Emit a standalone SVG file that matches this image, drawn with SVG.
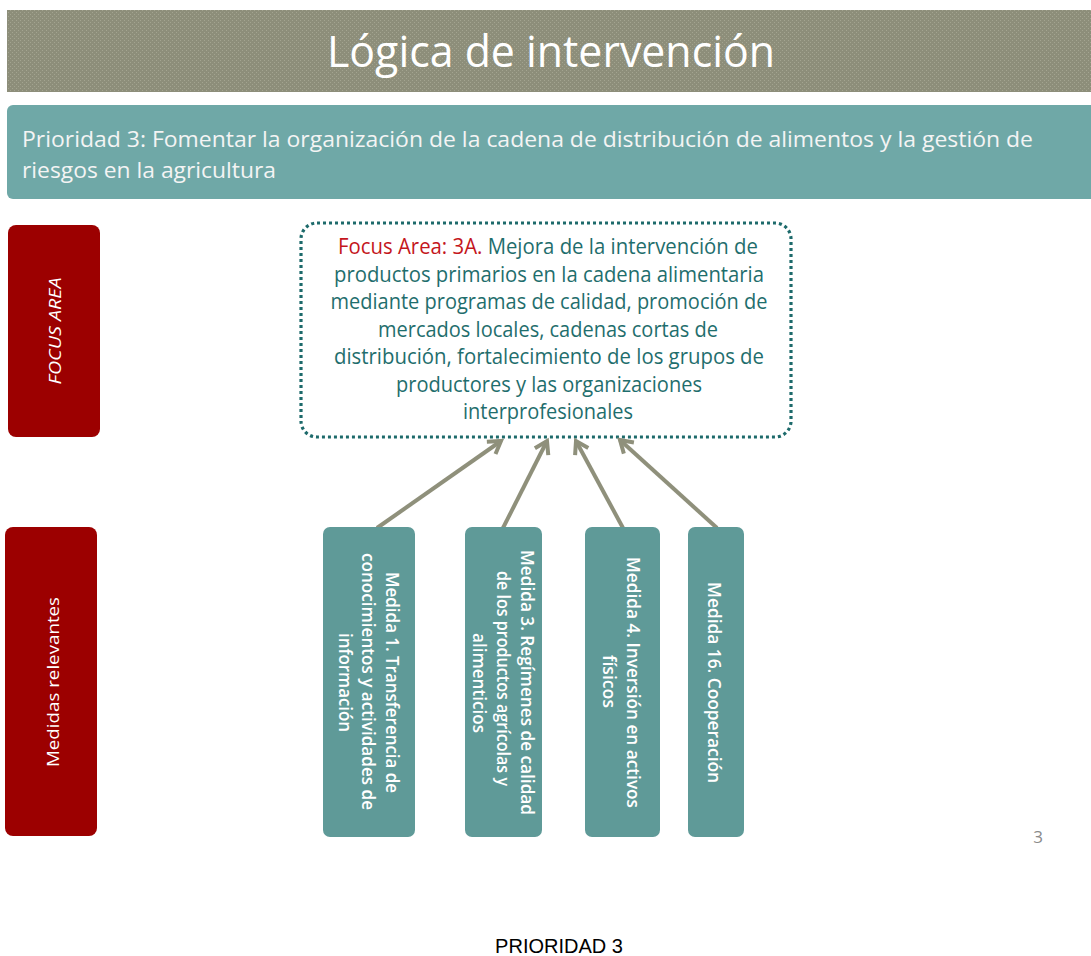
<svg xmlns="http://www.w3.org/2000/svg" width="1091" height="956" viewBox="0 0 1091 956">
<defs>
<pattern id="dots" width="4" height="4" patternUnits="userSpaceOnUse">
<rect width="4" height="4" fill="#8d8e7a"/>
<rect x="0" y="0" width="1" height="1" fill="#a3a490"/>
<rect x="2" y="2" width="1" height="1" fill="#a3a490"/>
</pattern>
<marker id="arr" markerUnits="userSpaceOnUse" markerWidth="30" markerHeight="30" refX="15" refY="15" orient="auto" overflow="visible">
<path d="M3,7.5 L15,15 L3,22.5" fill="none" stroke="#8f907b" stroke-width="4"/>
</marker>
</defs>
<style>
.os{font-family:"Open Sans","Noto Sans","DejaVu Sans",sans-serif;}
.wt{fill:#ffffff;}
.red{fill:#9c0000;}
.med{fill:#5f9a98;}
.ft{fill:#1f6e6d;font-size:21px;}
.mt{fill:#ffffff;font-size:18px;font-weight:600;}
.conn{stroke:#8f907b;stroke-width:4;fill:none;marker-end:url(#arr);}
</style>
<rect width="1091" height="956" fill="#ffffff"/>

<g id="title">
<rect x="7" y="10" width="1086" height="82" fill="url(#dots)"/>
<text class="os wt" x="327" y="67" font-size="44" textLength="448" lengthAdjust="spacingAndGlyphs">Lógica de intervención</text>
</g>

<g id="priority">
<rect x="7" y="105" width="1090" height="94" rx="6" fill="#6fa8a7"/>
<text class="os" fill="#f4f4f4" x="22" y="147" font-size="21" textLength="1011" lengthAdjust="spacingAndGlyphs">Prioridad 3: Fomentar la organización de la cadena de distribución de alimentos y la gestión de</text>
<text class="os" fill="#f4f4f4" x="22" y="178" font-size="21" textLength="254" lengthAdjust="spacingAndGlyphs">riesgos en la agricultura</text>
</g>

<g id="label-focus">
<rect x="8" y="225" width="92" height="212" rx="8" class="red"/>
<text class="os wt" font-size="16" font-style="italic" text-anchor="middle" textLength="107" lengthAdjust="spacingAndGlyphs" transform="translate(60.5,331) rotate(-90)">FOCUS AREA</text>
</g>

<g id="label-medidas">
<rect x="5" y="527" width="92" height="309" rx="8" class="red"/>
<text class="os wt" font-size="17" text-anchor="middle" textLength="170" lengthAdjust="spacingAndGlyphs" transform="translate(59,682) rotate(-90)">Medidas relevantes</text>
</g>

<g id="focus-area">
<rect x="301" y="223" width="490" height="214" rx="16" fill="#ffffff" stroke="#1d6a6b" stroke-width="3.2" stroke-dasharray="3 3"/>
<text class="os ft" x="548" y="254" text-anchor="middle" textLength="420" lengthAdjust="spacingAndGlyphs"><tspan fill="#c4161c">Focus Area: 3A.</tspan> Mejora de la intervención de</text>
<text class="os ft" x="549" y="281.5" text-anchor="middle" textLength="430" lengthAdjust="spacingAndGlyphs">productos primarios en la cadena alimentaria</text>
<text class="os ft" x="549" y="309" text-anchor="middle" textLength="437" lengthAdjust="spacingAndGlyphs">mediante programas de calidad, promoción de</text>
<text class="os ft" x="548" y="336.5" text-anchor="middle" textLength="340" lengthAdjust="spacingAndGlyphs">mercados locales, cadenas cortas de</text>
<text class="os ft" x="549" y="364" text-anchor="middle" textLength="430" lengthAdjust="spacingAndGlyphs">distribución, fortalecimiento de los grupos de</text>
<text class="os ft" x="549" y="391.5" text-anchor="middle" textLength="306" lengthAdjust="spacingAndGlyphs">productores y las organizaciones</text>
<text class="os ft" x="548" y="419" text-anchor="middle" textLength="170" lengthAdjust="spacingAndGlyphs">interprofesionales</text>
</g>

<g id="connectors">
<line class="conn" x1="377" y1="528" x2="501" y2="441"/>
<line class="conn" x1="503" y1="528" x2="547" y2="441"/>
<line class="conn" x1="623" y1="528" x2="576" y2="441"/>
<line class="conn" x1="717" y1="528" x2="620" y2="440"/>
</g>

<g id="medida-1">
<rect x="323" y="527" width="92" height="310" rx="7" class="med"/>
<text class="os mt" text-anchor="middle" textLength="221" lengthAdjust="spacingAndGlyphs" transform="translate(386,682.5) rotate(90)">Medida 1. Transferencia de</text>
<text class="os mt" text-anchor="middle" textLength="257" lengthAdjust="spacingAndGlyphs" transform="translate(362,681.5) rotate(90)">conocimientos y actividades de</text>
<text class="os mt" text-anchor="middle" textLength="99" lengthAdjust="spacingAndGlyphs" transform="translate(339,682.5) rotate(90)">información</text>
</g>

<g id="medida-3">
<rect x="465" y="527" width="77" height="310" rx="7" class="med"/>
<text class="os mt" text-anchor="middle" textLength="265" lengthAdjust="spacingAndGlyphs" transform="translate(520.5,682.5) rotate(90)">Medida 3. Regímenes de calidad</text>
<text class="os mt" text-anchor="middle" textLength="215" lengthAdjust="spacingAndGlyphs" transform="translate(497,678.5) rotate(90)">de los productos agrícolas y</text>
<text class="os mt" text-anchor="middle" textLength="100" lengthAdjust="spacingAndGlyphs" transform="translate(473,683) rotate(90)">alimenticios</text>
</g>

<g id="medida-4">
<rect x="585" y="527" width="75" height="310" rx="7" class="med"/>
<text class="os mt" text-anchor="middle" textLength="251" lengthAdjust="spacingAndGlyphs" transform="translate(627,682.5) rotate(90)">Medida 4. Inversión en activos</text>
<text class="os mt" text-anchor="middle" textLength="53" lengthAdjust="spacingAndGlyphs" transform="translate(603,681.5) rotate(90)">físicos</text>
</g>

<g id="medida-16">
<rect x="688" y="527" width="56" height="310" rx="7" class="med"/>
<text class="os mt" text-anchor="middle" textLength="201" lengthAdjust="spacingAndGlyphs" transform="translate(708,682.5) rotate(90)">Medida 16. Cooperación</text>
</g>

<g id="page-number">
<text class="os" fill="#8a8a8a" font-size="17" x="1038" y="843" text-anchor="middle">3</text>
</g>

<g id="footer">
<text font-family="'Liberation Sans',Arial,sans-serif" font-size="20" fill="#000000" x="559" y="953" text-anchor="middle">PRIORIDAD 3</text>
</g>
</svg>
